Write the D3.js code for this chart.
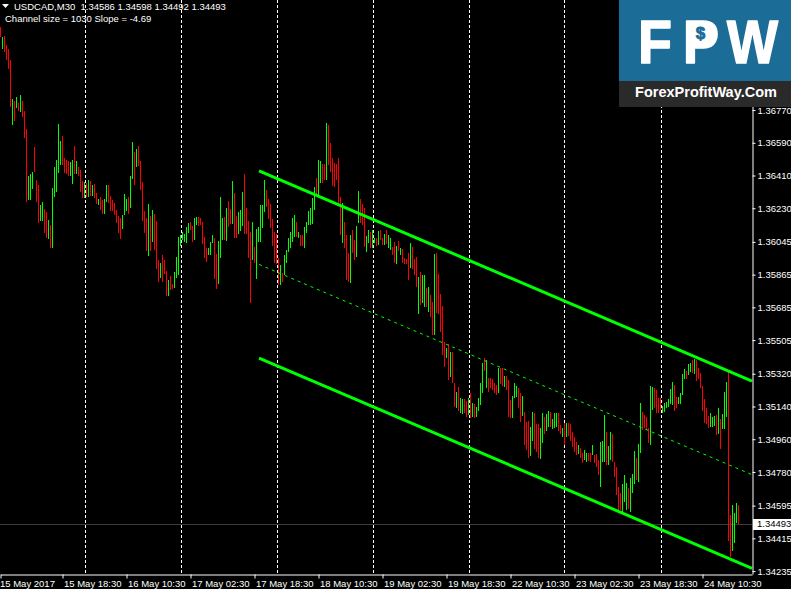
<!DOCTYPE html>
<html><head><meta charset="utf-8">
<script src="https://cdn.jsdelivr.net/npm/d3@7"></script>
<style>html,body{margin:0;padding:0;background:#000;overflow:hidden}svg{display:block}</style>
</head><body><svg id="c" width="791" height="589"></svg>
<script>
const symbol = "USDCAD,M30";
const lastOHLC = ["1.34586", "1.34598", "1.34492", "1.34493"];
const channelInfo = "Channel size = 1030 Slope = -4.69";
const brandLetters = ["F", "P", "W"];
const brandSign = "$";
const brandSite = "ForexProfitWay.Com";

const highs = [
1.37227,1.37172,1.37177,1.37128,1.37106,1.37045,1.36831,1.36820,1.36842,1.36809,
1.36853,1.36820,1.36765,1.36666,1.36407,1.36418,1.36429,1.36567,1.36385,1.36358,
1.36248,1.36264,1.36226,1.36209,1.36165,1.36138,1.36341,1.36457,1.36495,1.36693,
1.36600,1.36627,1.36506,1.36495,1.36490,1.36484,1.36495,1.36572,1.36490,1.36457,
1.36440,1.36380,1.36374,1.36369,1.36385,1.36380,1.36358,1.36363,1.36314,1.36281,
1.36292,1.36275,1.36281,1.36358,1.36358,1.36297,1.36275,1.36259,1.36220,1.36187,
1.36176,1.36193,1.36308,1.36281,1.36292,1.36407,1.36594,1.36539,1.36556,1.36572,
1.36490,1.36374,1.36215,1.36176,1.36253,1.36187,1.36220,1.36198,1.36160,1.35945,
1.35929,1.35973,1.35945,1.35885,1.35835,1.35857,1.35813,1.35879,1.35962,1.36072,
1.36083,1.36099,1.36088,1.36127,1.36149,1.36154,1.36132,1.36176,1.36182,1.36182,
1.36176,1.36154,1.36072,1.36011,1.36011,1.36044,1.36083,1.36066,1.35978,1.36050,
1.36292,1.36176,1.36182,1.36231,1.36270,1.36226,1.36380,1.36314,1.36187,1.36209,
1.36220,1.36319,1.36418,1.36231,1.36160,1.36099,1.36154,1.36017,1.36116,1.36127,
1.36248,1.36248,1.36385,1.36330,1.36281,1.36253,1.36171,1.36099,1.36088,1.35956,
1.35918,1.35874,1.35973,1.36000,1.36066,1.36099,1.36176,1.36193,1.36154,1.36099,
1.36083,1.36083,1.36127,1.36154,1.36215,1.36231,1.36286,1.36347,1.36396,1.36495,
1.36490,1.36473,1.36473,1.36699,1.36688,1.36589,1.36506,1.36479,1.36473,1.36506,
1.36292,1.36259,1.36154,1.36083,1.35984,1.36083,1.36110,1.36055,1.36132,1.36325,
1.36281,1.36253,1.36231,1.36077,1.36110,1.36099,1.36110,1.36066,1.36066,1.36105,
1.36110,1.36066,1.36088,1.36110,1.36083,1.36066,1.36017,1.36044,1.36022,1.36050,
1.36011,1.36006,1.35956,1.35951,1.35984,1.36039,1.36017,1.35951,1.35962,1.35852,
1.35879,1.35863,1.35863,1.35791,1.35797,1.35753,1.35714,1.35978,1.35984,1.35868,
1.35758,1.35692,1.35494,1.35461,1.35483,1.35439,1.35439,1.35269,1.35219,1.35247,
1.35186,1.35181,1.35181,1.35170,1.35186,1.35214,1.35159,1.35153,1.35137,1.35186,
1.35269,1.35379,1.35406,1.35395,1.35296,1.35296,1.35291,1.35269,1.35258,1.35351,
1.35351,1.35351,1.35307,1.35307,1.35285,1.35175,1.35197,1.35269,1.35252,1.35241,
1.35214,1.35197,1.35109,1.35054,1.35060,1.35027,1.35109,1.35104,1.35043,1.35043,
1.35021,1.35104,1.35082,1.35098,1.35115,1.35109,1.35071,1.35104,1.35104,1.35104,
1.35038,1.35021,1.35049,1.35049,1.35049,1.35043,1.34999,1.34972,1.34944,1.34928,
1.34911,1.34884,1.34900,1.34884,1.34884,1.34884,1.34928,1.34873,1.34878,1.34845,
1.34944,1.34950,1.35093,1.34999,1.34922,1.34999,1.34988,1.34834,1.34807,1.34697,
1.34664,1.34713,1.34763,1.34719,1.34691,1.34746,1.34768,1.34895,1.34856,1.34933,
1.35159,1.35109,1.35093,1.35082,1.35021,1.35252,1.35247,1.35241,1.35230,1.35186,
1.35186,1.35142,1.35159,1.35164,1.35181,1.35236,1.35274,1.35258,1.35192,1.35192,
1.35214,1.35318,1.35346,1.35335,1.35373,1.35379,1.35395,1.35401,1.35395,1.35351,
1.35324,1.35252,1.35181,1.35131,1.35087,1.35104,1.35082,1.35087,1.35093,1.35131,
1.35071,1.35098,1.35219,1.35274,1.35329,1.34543,1.34598,1.34554,1.34609,1.34598
];

const lows = [
1.37172,1.37106,1.37089,1.37045,1.36996,1.36787,1.36688,1.36710,1.36781,1.36765,
1.36759,1.36732,1.36616,1.36264,1.36275,1.36275,1.36336,1.36429,1.36264,1.36149,
1.36160,1.36160,1.36094,1.36066,1.36061,1.36011,1.36011,1.36292,1.36319,1.36424,
1.36468,1.36468,1.36424,1.36418,1.36407,1.36407,1.36363,1.36418,1.36418,1.36407,
1.36319,1.36286,1.36286,1.36292,1.36292,1.36297,1.36297,1.36286,1.36253,1.36248,
1.36220,1.36198,1.36198,1.36264,1.36259,1.36215,1.36215,1.36193,1.36149,1.36094,
1.36061,1.36116,1.36193,1.36215,1.36198,1.36231,1.36391,1.36358,1.36457,1.36462,
1.36330,1.36160,1.36094,1.35995,1.35967,1.35995,1.36044,1.36000,1.35896,1.35824,
1.35846,1.35824,1.35868,1.35747,1.35747,1.35780,1.35786,1.35791,1.35846,1.35863,
1.36022,1.36055,1.36044,1.36039,1.36094,1.36110,1.36044,1.36055,1.36138,1.36132,
1.36138,1.36033,1.35956,1.35934,1.35973,1.35973,1.36039,1.35841,1.35786,1.35813,
1.35956,1.36055,1.36055,1.36050,1.36127,1.36143,1.36143,1.36066,1.36066,1.36088,
1.36105,1.36132,1.36088,1.36088,1.35956,1.35709,1.35945,1.35929,1.35841,1.36044,
1.36044,1.36121,1.36209,1.36237,1.36171,1.36121,1.36022,1.35929,1.35923,1.35808,
1.35808,1.35824,1.35863,1.35929,1.35989,1.36011,1.36044,1.36072,1.36072,1.36066,
1.36022,1.36022,1.36011,1.36094,1.36138,1.36138,1.36143,1.36220,1.36297,1.36292,
1.36369,1.36369,1.36385,1.36385,1.36468,1.36429,1.36352,1.36347,1.36385,1.36259,
1.36083,1.36039,1.36011,1.35835,1.35824,1.35819,1.35984,1.35945,1.35962,1.36149,
1.36149,1.36138,1.36017,1.35989,1.36039,1.36011,1.36011,1.36039,1.36022,1.36028,
1.36055,1.36028,1.36028,1.36033,1.36011,1.36000,1.35973,1.35929,1.35923,1.35995,
1.35973,1.35929,1.35923,1.35923,1.35835,1.35901,1.35896,1.35863,1.35797,1.35648,
1.35698,1.35709,1.35687,1.35687,1.35659,1.35632,1.35533,1.35533,1.35654,1.35648,
1.35549,1.35423,1.35357,1.35406,1.35285,1.35302,1.35269,1.35137,1.35131,1.35115,
1.35104,1.35098,1.35104,1.35082,1.35093,1.35076,1.35082,1.35076,1.35082,1.35115,
1.35148,1.35214,1.35335,1.35241,1.35219,1.35241,1.35230,1.35214,1.35203,1.35214,
1.35263,1.35252,1.35247,1.35230,1.35082,1.35076,1.35076,1.35186,1.35192,1.35131,
1.35054,1.35087,1.34928,1.34900,1.34856,1.34867,1.34950,1.34906,1.34889,1.34856,
1.34851,1.34939,1.34988,1.35005,1.35027,1.35027,1.35016,1.35021,1.35027,1.35005,
1.34988,1.34972,1.34928,1.34972,1.34977,1.34950,1.34917,1.34889,1.34873,1.34878,
1.34856,1.34829,1.34845,1.34834,1.34840,1.34834,1.34873,1.34829,1.34807,1.34763,
1.34697,1.34834,1.34834,1.34818,1.34818,1.34845,1.34834,1.34752,1.34653,1.34570,
1.34570,1.34554,1.34614,1.34570,1.34576,1.34559,1.34664,1.34713,1.34735,1.34724,
1.34884,1.35010,1.35021,1.35010,1.34939,1.34928,1.35120,1.35131,1.35104,1.35104,
1.35120,1.35104,1.35109,1.35131,1.35137,1.35153,1.35148,1.35115,1.35131,1.35153,
1.35153,1.35203,1.35291,1.35291,1.35313,1.35329,1.35324,1.35318,1.35280,1.35291,
1.35241,1.35115,1.35049,1.35043,1.35021,1.35027,1.35027,1.35032,1.34983,1.34988,
1.34906,1.35016,1.35016,1.35082,1.34400,1.34312,1.34345,1.34389,1.34499,1.34492
];

// u = bullish bar, d = bearish bar (10 bars per group)
const dirGroups = [
"duddddudud","uddduuuddd","uudduduuuu","udddduudud","ddudududdu",
"dduudddddd","duuuduudud","ddddududdd","udddudduuu","uuuuudduud",
"dddduuuddu","uududduddu","uudddduduu","uuuddddddd","uduuuuuudu",
"dduuuuuudu","uddudddddd","dudddudduu","ddduuduudu","dduduuddud",
"uddddudddu","duududdudd","dddududdud","uuddududuu","uududddddu",
"dduddduuud","duddduuddd","uuduuduuud","dududddddu","dduudduddd",
"uuuduudddd","duuuduuudu","udddduuddd","duuuuuuddu","uuuduududd",
"ddddduuudu","duuudduuud"
];

const yTicks = [1.36770, 1.36590, 1.36410, 1.36230, 1.36045, 1.35865, 1.35685,
  1.35505, 1.35320, 1.35140, 1.34960, 1.34780, 1.34595, 1.34415, 1.34235];
const xTickIdx = [0, 31, 63, 95, 127, 159, 191, 223, 255, 287, 319, 351];
const xTickLabels = ["15 May 2017", "15 May 18:30", "16 May 10:30", "17 May 02:30",
  "17 May 18:30", "18 May 10:30", "19 May 02:30", "19 May 18:30", "22 May 10:30",
  "23 May 02:30", "23 May 18:30", "24 May 10:30"];
const daySeparators = [42, 90, 138, 186, 234, 282, 330];
const channelIdx = [129.25, 375.75];
const channelUpper = [1.36436, 1.35280];
const channelMid = [1.35921, 1.34765];
const channelLower = [1.35406, 1.34250];
const lastPrice = 1.34493;

const W = 791, H = 589, plotR = 752, plotB = 574;
const FONT = "'Liberation Sans', Arial, sans-serif";
const BULL = "#00ff00", BEAR = "#ff0000", CHAN = "#00ff00";
const LOGO_BLUE = "#1c6c98";

const dirs = dirGroups.join("");
const svg = d3.select("#c");
svg.append("rect").attr("width", W).attr("height", H).attr("fill", "#000");

const x = d3.scaleLinear().domain([0, 375.75]).range([0.5, plotR]);
const y = d3.scaleLinear().domain([1.34219, 1.37375]).range([plotB, 0]);

const bars = highs.map((h, i) => ({ i, h, l: lows[i], up: dirs[i] === "u" }));

// day separators
svg.append("g").selectAll("line").data(daySeparators).join("line")
  .attr("x1", d => Math.round(x(d)) + 0.5).attr("x2", d => Math.round(x(d)) + 0.5)
  .attr("y1", 0).attr("y2", plotB)
  .attr("stroke", "#ffffff").attr("stroke-width", 1).attr("stroke-dasharray", "3,2");

// current price line
svg.append("line").attr("x1", 0).attr("x2", plotR)
  .attr("y1", Math.round(y(lastPrice)) + 0.5).attr("y2", Math.round(y(lastPrice)) + 0.5)
  .attr("stroke", "#3c3c3c").attr("stroke-width", 1);

// candles (1px bars)
svg.append("g").attr("shape-rendering", "crispEdges").selectAll("rect").data(bars).join("rect")
  .attr("x", d => x(d.i) - 0.5).attr("width", 1)
  .attr("y", d => y(d.h)).attr("height", d => Math.max(1, y(d.l) - y(d.h)))
  .attr("fill", d => d.up ? BULL : BEAR);

// channel
const line = d3.line().x(d => x(d[0])).y(d => y(d[1]));
const seg = arr => channelIdx.map((c, k) => [c, arr[k]]);
svg.append("path").attr("d", line(seg(channelUpper))).attr("stroke", CHAN).attr("stroke-width", 3).attr("fill", "none");
svg.append("path").attr("d", line(seg(channelLower))).attr("stroke", CHAN).attr("stroke-width", 3).attr("fill", "none");
svg.append("path").attr("d", line(seg(channelMid))).attr("stroke", CHAN).attr("stroke-width", 1)
  .attr("stroke-dasharray", "3,4").attr("fill", "none");

// axes
const yAxis = d3.axisRight(y).tickValues(yTicks).tickFormat(d3.format(".5f")).tickSize(3).tickSizeOuter(0);
const gy = svg.append("g").attr("transform", `translate(${plotR + 0.5},0)`).call(yAxis);
gy.select(".domain").attr("stroke", "#fff");
gy.selectAll(".tick line").attr("stroke", "#fff");
gy.selectAll(".tick text").attr("x", 5).attr("fill", "#fff")
  .style("font-family", FONT).style("font-size", "9.5px");

const xAxis = d3.axisBottom(x).tickValues(xTickIdx).tickFormat((d, k) => xTickLabels[k]).tickSize(4).tickSizeOuter(0);
const gx = svg.append("g").attr("transform", `translate(0,${plotB + 0.5})`).call(xAxis);
gx.select(".domain").attr("stroke", "#fff");
gx.selectAll(".tick line").attr("stroke", "#fff");
gx.selectAll(".tick text").attr("fill", "#fff").attr("text-anchor", "start")
  .attr("x", (d, k) => k === 0 ? -1 : 1).attr("y", 12.5).attr("dy", 0)
  .style("font-family", FONT).style("font-size", "9.5px");

// current price label
const py = y(lastPrice);
svg.append("rect").attr("x", plotR + 1).attr("y", Math.round(py) - 5).attr("width", W - plotR - 1).attr("height", 11).attr("fill", "#fff");
svg.append("text").attr("x", plotR + 5).attr("y", py).attr("dy", "0.34em").attr("fill", "#000")
  .style("font-family", FONT).style("font-size", "9.5px").text(d3.format(".5f")(lastPrice));

// header
svg.append("path").attr("d", "M2,4L9,4L5.5,8Z").attr("fill", "#fff");
svg.append("text").attr("x", 14).attr("y", 10).attr("fill", "#fff").attr("xml:space", "preserve")
  .style("white-space", "pre").style("font-family", FONT).style("font-size", "9.5px")
  .text(symbol + "  " + lastOHLC.join(" "));
svg.append("text").attr("x", 5).attr("y", 22).attr("fill", "#fff")
  .style("font-family", FONT).style("font-size", "9.5px").text(channelInfo);

// logo
const logo = svg.append("g");
logo.append("rect").attr("x", 619).attr("y", 0).attr("width", 172).attr("height", 81).attr("fill", LOGO_BLUE);
logo.append("rect").attr("x", 619).attr("y", 81).attr("width", 172).attr("height", 26).attr("fill", "#2a2a2a");
const letterX = [638, 683, 727];
const letterLen = [34, 36, 51];
logo.selectAll("text.brand").data(brandLetters).join("text").attr("class", "brand")
  .attr("x", (d, k) => letterX[k]).attr("y", 63).attr("fill", "#fff")
  .attr("textLength", (d, k) => letterLen[k]).attr("lengthAdjust", "spacingAndGlyphs")
  .attr("stroke", "#fff").attr("stroke-width", 1.6).attr("stroke-linejoin", "round")
  .style("font-family", FONT).style("font-weight", "bold").style("font-size", "62px").text(d => d);
// filled bowl of the P holding the dollar sign
logo.append("rect").attr("x", 692).attr("y", 23).attr("width", 17).attr("height", 20).attr("fill", "#fff");
logo.append("text").attr("x", 700.5).attr("y", 39).attr("text-anchor", "middle").attr("fill", LOGO_BLUE)
  .attr("stroke", LOGO_BLUE).attr("stroke-width", 0.8)
  .style("font-family", FONT).style("font-weight", "bold").style("font-size", "17px").text(brandSign);
logo.append("text").attr("x", 706).attr("y", 97).attr("text-anchor", "middle").attr("fill", "#fff")
  .style("font-family", FONT).style("font-weight", "bold").style("font-size", "14.5px").text(brandSite);
</script></body></html>
